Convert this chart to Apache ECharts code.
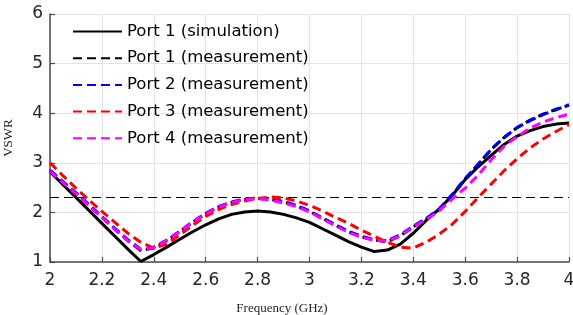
<!DOCTYPE html>
<html>
<head>
<meta charset="utf-8">
<script src="https://cdn.jsdelivr.net/npm/echarts@6/dist/echarts.min.js"></script>
<style>
html,body{margin:0;padding:0;background:#fff;}
#chart{width:573px;height:315px;}
</style>
</head>
<body>
<div id="chart"></div>
<script>
// Frequency samples (GHz)
const freqs = [2.00,2.05,2.10,2.15,2.20,2.25,2.30,2.35,2.40,2.45,2.50,2.55,2.60,2.65,2.70,2.75,2.80,2.85,2.90,2.95,3.00,3.05,3.10,3.15,3.20,3.25,3.30,3.35,3.40,3.45,3.50,3.55,3.60,3.65,3.70,3.75,3.80,3.85,3.90,3.95,4.00];

const port1Sim = [2.82,2.56,2.30,2.04,1.78,1.52,1.26,1.01,1.15,1.30,1.46,1.61,1.75,1.87,1.96,2.01,2.03,2.01,1.96,1.89,1.80,1.67,1.54,1.41,1.30,1.21,1.24,1.36,1.58,1.84,2.07,2.34,2.66,2.92,3.15,3.37,3.54,3.65,3.73,3.78,3.80];
const port1Meas = [2.84,2.61,2.38,2.14,1.90,1.66,1.43,1.23,1.28,1.43,1.61,1.80,1.97,2.11,2.20,2.26,2.28,2.26,2.21,2.13,2.02,1.88,1.74,1.61,1.51,1.44,1.41,1.53,1.71,1.87,2.06,2.35,2.68,2.97,3.27,3.51,3.71,3.86,3.98,4.08,4.16];
const port2Meas = [2.85,2.62,2.40,2.16,1.92,1.68,1.45,1.26,1.30,1.44,1.62,1.81,1.98,2.12,2.21,2.27,2.29,2.27,2.22,2.14,2.03,1.89,1.75,1.62,1.52,1.45,1.43,1.55,1.72,1.88,2.07,2.36,2.68,2.97,3.27,3.51,3.71,3.85,3.97,4.07,4.17];
const port3Meas = [3.00,2.74,2.49,2.25,2.02,1.80,1.58,1.40,1.28,1.36,1.55,1.74,1.92,2.06,2.16,2.23,2.28,2.31,2.29,2.23,2.14,2.03,1.90,1.78,1.64,1.52,1.40,1.30,1.28,1.40,1.56,1.76,2.02,2.30,2.57,2.84,3.08,3.30,3.48,3.63,3.77];
const port4Meas = [2.83,2.60,2.38,2.14,1.90,1.66,1.43,1.25,1.29,1.43,1.61,1.80,1.97,2.11,2.20,2.26,2.28,2.25,2.19,2.12,2.01,1.87,1.73,1.60,1.50,1.44,1.42,1.53,1.70,1.86,2.03,2.27,2.49,2.75,3.06,3.33,3.53,3.70,3.82,3.91,3.98];

const thresholdVSWR = 2.3;

const seriesNames = ['Port 1 (simulation)','Port 1 (measurement)','Port 2 (measurement)','Port 3 (measurement)','Port 4 (measurement)'];
const xTicks = {min:2, max:4, interval:0.2};
const yTicks = {min:1, max:6, interval:1};

function pairs(vals){ return freqs.map((f,i)=>[f, vals[i]]); }

const chart = echarts.init(document.getElementById('chart'), null, {renderer:'canvas'});
const dash = [9,5];
const lw = 3;
function mk(name, vals, color, type){
  return {
    name: name, type:'line', data: pairs(vals), symbol:'none', smooth:false,
    lineStyle:{color:color, width:lw, type:type},
    itemStyle:{color:color},
    emphasis:{disabled:true}, animation:false, z: 3
  };
}
const option = {
  animation:false,
  grid:{left:50, right:4, top:14, bottom:53, containLabel:false, outerBoundsMode:'none'},
  legend:{
    data: seriesNames,
    orient:'vertical', left:72, top:23, padding:0,
    itemWidth:49, itemHeight:14, itemGap:9.7,
    backgroundColor:'transparent',
    itemStyle:{opacity:0},
    textStyle:{fontFamily:'DejaVu Sans', fontSize:16.5, color:'#000', padding:[0,0,0,0]},
    selectedMode:false
  },
  xAxis:{
    type:'value', min:xTicks.min, max:xTicks.max, interval:xTicks.interval,
    name:'Frequency (GHz)', nameLocation:'middle', nameGap:40,
    nameTextStyle:{fontFamily:'Liberation Serif', fontSize:13, color:'#262626', padding:[0,55,0,0]},
    axisLine:{show:true, onZero:false, lineStyle:{color:'#4d4d4d', width:1.5}},
    axisTick:{show:true, inside:true, length:5, lineStyle:{color:'#4d4d4d', width:1.2}},
    axisLabel:{fontFamily:'DejaVu Sans', fontSize:17, color:'#262626', margin:10,
      formatter:(v)=>String(Math.round(v*10)/10)},
    splitLine:{show:true, lineStyle:{color:'#e3e3e3', width:1}}
  },
  yAxis:{
    type:'value', min:yTicks.min, max:yTicks.max, interval:yTicks.interval,
    name:'VSWR', nameLocation:'middle', nameGap:35,
    nameTextStyle:{fontFamily:'Liberation Serif', fontSize:13, color:'#262626'},
    axisLine:{show:true, onZero:false, lineStyle:{color:'#4d4d4d', width:1.5}},
    axisTick:{show:true, inside:true, length:5, lineStyle:{color:'#4d4d4d', width:1.2}},
    axisLabel:{fontFamily:'DejaVu Sans', fontSize:17, color:'#262626', margin:7},
    splitLine:{show:true, lineStyle:{color:'#e3e3e3', width:1}}
  },
  series:[
    mk(seriesNames[0], port1Sim, '#000000', 'solid'),
    mk(seriesNames[1], port1Meas, '#000000', dash),
    mk(seriesNames[2], port2Meas, '#0000ff', dash),
    mk(seriesNames[3], port3Meas, '#ff0000', dash),
    mk(seriesNames[4], port4Meas, '#ff00ff', dash),
    {
      name:'threshold', type:'line', data:[[xTicks.min, thresholdVSWR],[xTicks.max, thresholdVSWR]],
      symbol:'none', lineStyle:{color:'#000', width:1.2, type:[9,5]}, z:2, emphasis:{disabled:true}
    }
  ]
};
chart.setOption(option);
</script>
</body>
</html>
